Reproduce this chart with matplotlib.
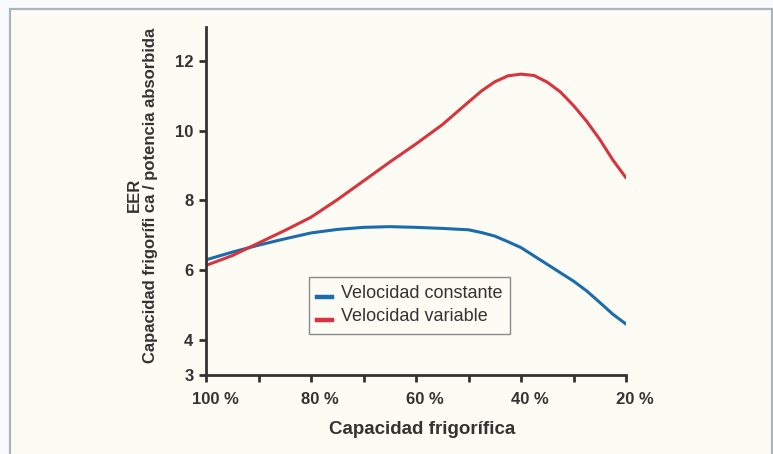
import numpy as np
import matplotlib.pyplot as plt
import matplotlib.patheffects as pe
import matplotlib.transforms as mtransforms
from matplotlib.lines import Line2D
from matplotlib.patches import Rectangle

plt.rcParams['font.family'] = ['Liberation Sans', 'DejaVu Sans']

# capacity steps (% of nominal cooling capacity)
capacity = [100, 95, 90, 85, 80, 75, 70, 65, 60, 55, 50, 47.5, 45, 42.5,
            40, 37.5, 35, 32.5, 30, 27.5, 25, 22.5, 20]

# EER readings for each compressor type
eer_constant = [6.30, 6.52, 6.72, 6.90, 7.07, 7.17, 7.23, 7.25, 7.23, 7.20,
                7.16, 7.08, 6.98, 6.82, 6.65, 6.41, 6.17, 5.93, 5.69, 5.41,
                5.08, 4.74, 4.46]
eer_variable = [6.14, 6.42, 6.78, 7.14, 7.52, 8.02, 8.56, 9.10, 9.62, 10.17,
                10.82, 11.14, 11.40, 11.57, 11.62, 11.58, 11.39, 11.11, 10.72,
                10.27, 9.75, 9.16, 8.65]

x_ticks = [100, 90, 80, 70, 60, 50, 40, 30, 20]
x_labels = ['100 %', '', '80 %', '', '60 %', '', '40 %', '', '20 %']
y_ticks = [3, 4, 6, 8, 10, 12]

blue = '#1c6cab'
red = '#d8343f'
dark = '#333333'

fig = plt.figure(figsize=(7.73, 4.54), dpi=100)
fig.patch.set_facecolor('#f8fafb')

# light panel with a thin border round it
W, H = 773, 454
panel = Rectangle((10 / W, -0.05), 762 / W, (454 - 9) / H + 0.05,
                  transform=fig.transFigure, facecolor='#fcfcf4',
                  edgecolor='#a9b6c0', linewidth=1.6, zorder=-10)
fig.add_artist(panel)

ax = fig.add_axes([206 / W, 79 / H, 420 / W, 348 / H])
ax.set_facecolor('none')
ax.set_zorder(5)

ax.plot(capacity, eer_constant, color=blue, linewidth=2.2, solid_capstyle='round')
ax.plot(capacity, eer_variable, color=red, linewidth=2.2, solid_capstyle='round')

ax.set_xlim(100, 20)
ax.set_ylim(3, 12.97)
ax.set_xticks(x_ticks)
ax.set_xticklabels(x_labels)
ax.set_yticks(y_ticks)

for side in ['top', 'right']:
    ax.spines[side].set_visible(False)
for side in ['left', 'bottom']:
    ax.spines[side].set_color(dark)
    ax.spines[side].set_linewidth(2.0)

ax.tick_params(axis='both', colors=dark, width=2.0, length=5, labelsize=12)
ax.tick_params(axis='x', pad=7)
ax.tick_params(axis='y', pad=4)
for lab in ax.get_xticklabels() + ax.get_yticklabels():
    lab.set_fontweight('bold')
    lab.set_color(dark)

# percentage labels sit slightly right of their ticks
nudge = mtransforms.ScaledTranslation(0.09, 0, fig.dpi_scale_trans)
for lab in ax.get_xticklabels():
    lab.set_transform(lab.get_transform() + nudge)

fig.text(422 / W, 1 - 430 / H, 'Capacidad frigorífica', fontsize=13.5,
         fontweight='bold', color=dark, ha='center', va='center')
fig.text(142.5 / W, 1 - 195 / H, 'EER\nCapacidad frigorífi ca / potencia absorbida',
         fontsize=12, fontweight='bold', color=dark, rotation=90,
         ha='center', va='center', multialignment='center', linespacing=1.12)

# legend keys sit a little below the text line
shift = [pe.Stroke(offset=(0, -3.5))]
handles = [Line2D([], [], color=blue, linewidth=3.2, path_effects=shift),
           Line2D([], [], color=red, linewidth=3.2, path_effects=shift)]
leg = ax.legend(handles, ['Velocidad constante', 'Velocidad variable'],
                loc='upper left', bbox_to_anchor=((309 - 206) / 420, (375 - 277) / 348),
                borderaxespad=0, fontsize=13, handlelength=0.85,
                handletextpad=0.45, borderpad=0.45, labelspacing=0.35,
                fancybox=False, framealpha=1.0, facecolor='#fcfcf4',
                edgecolor='#8a8a8a')
leg.get_frame().set_linewidth(1.0)
for t in leg.get_texts():
    t.set_color(dark)

fig.savefig('out.png', dpi=100, facecolor=fig.get_facecolor())
